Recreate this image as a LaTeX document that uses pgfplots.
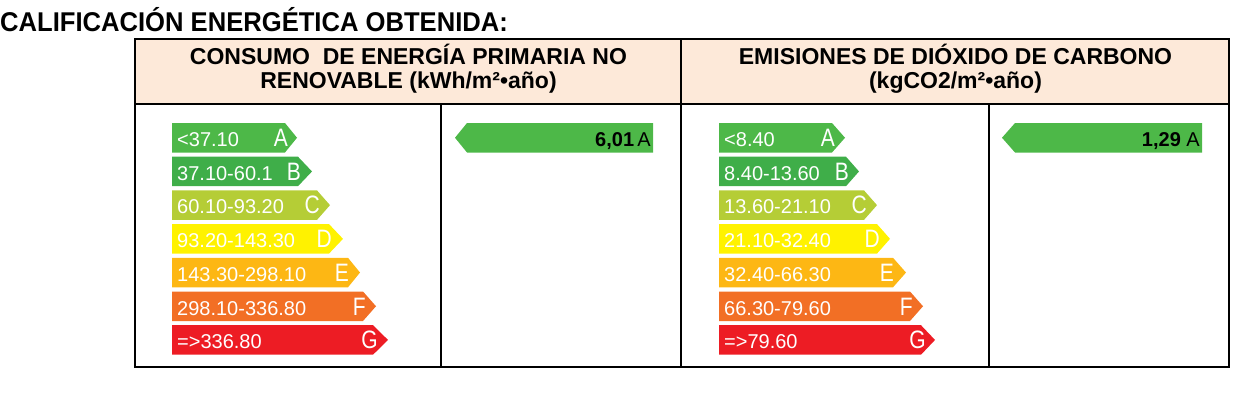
\documentclass[border=0pt]{standalone}
\usepackage{pgfplots}
\pgfplotsset{compat=1.18}
\usepackage{fontspec}
\setmainfont{Liberation Sans}
\definecolor{hdr}{HTML}{FDE9D9}
\definecolor{cA}{HTML}{4DB848}
\definecolor{cB}{HTML}{3FAE49}
\definecolor{cC}{HTML}{B5CD36}
\definecolor{cD}{HTML}{FFF200}
\definecolor{cE}{HTML}{FDB714}
\definecolor{cF}{HTML}{F26F25}
\definecolor{cG}{HTML}{ED1C24}
\newcommand\lab{\fontsize{20}{23}\selectfont}
\newcommand\ltr[1]{\fontsize{21}{23}\selectfont\scalebox{1}[1.2]{#1}}
\newcommand\hd{\fontsize{23}{26}\selectfont\bfseries}
\begin{document}
\begin{tikzpicture}
\begin{axis}[width=1242pt,height=399pt,scale only axis,
  xmin=0,xmax=1242,ymin=0,ymax=399,y dir=reverse,hide axis,clip=false]
\path (axis cs:0,0) rectangle (axis cs:1242,399);
% header background
\addplot[fill=hdr,draw=none] coordinates {(135,39) (1229,39) (1229,104) (135,104)} --cycle;
% ---- left scale (kWh/m2 año)
\addplot[fill=cA,draw=none] coordinates {(172,123) (285,123) (297,137.75) (285,152.5) (172,152.5)} --cycle;
\addplot[fill=cB,draw=none] coordinates {(172,156.7) (298,156.7) (312,171.45) (298,186.2) (172,186.2)} --cycle;
\addplot[fill=cC,draw=none] coordinates {(172,190.4) (317,190.4) (330,205.15) (317,219.9) (172,219.9)} --cycle;
\addplot[fill=cD,draw=none] coordinates {(172,224.1) (329,224.1) (343,238.85) (329,253.6) (172,253.6)} --cycle;
\addplot[fill=cE,draw=none] coordinates {(172,257.8) (348,257.8) (360,272.55) (348,287.3) (172,287.3)} --cycle;
\addplot[fill=cF,draw=none] coordinates {(172,291.5) (363,291.5) (376,306.25) (363,321) (172,321)} --cycle;
\addplot[fill=cG,draw=none] coordinates {(172,325.2) (373,325.2) (388,339.95) (373,354.7) (172,354.7)} --cycle;
% ---- right scale (kgCO2/m2 año)
\addplot[fill=cA,draw=none] coordinates {(719,123) (832,123) (845,137.75) (832,152.5) (719,152.5)} --cycle;
\addplot[fill=cB,draw=none] coordinates {(719,156.7) (846,156.7) (859,171.45) (846,186.2) (719,186.2)} --cycle;
\addplot[fill=cC,draw=none] coordinates {(719,190.4) (864,190.4) (877,205.15) (864,219.9) (719,219.9)} --cycle;
\addplot[fill=cD,draw=none] coordinates {(719,224.1) (877,224.1) (890,238.85) (877,253.6) (719,253.6)} --cycle;
\addplot[fill=cE,draw=none] coordinates {(719,257.8) (893,257.8) (906,272.55) (893,287.3) (719,287.3)} --cycle;
\addplot[fill=cF,draw=none] coordinates {(719,291.5) (910,291.5) (923,306.25) (910,321) (719,321)} --cycle;
\addplot[fill=cG,draw=none] coordinates {(719,325.2) (921,325.2) (935,339.95) (921,354.7) (719,354.7)} --cycle;
% ---- obtained ratings
\addplot[fill=cA,draw=none] coordinates {(455,137.75) (467,123) (653,123) (653,152.5) (467,152.5)} --cycle;
\addplot[fill=cA,draw=none] coordinates {(1002,137.75) (1015,123) (1202,123) (1202,152.5) (1015,152.5)} --cycle;
% ---- table frame
\draw[line width=2pt] (axis cs:135,39) rectangle (axis cs:1229,367);
\draw[line width=2pt] (axis cs:135,104) -- (axis cs:1229,104);
\draw[line width=2pt] (axis cs:681,39) -- (axis cs:681,367);
\draw[line width=2pt] (axis cs:441,104) -- (axis cs:441,367);
\draw[line width=2pt] (axis cs:989,104) -- (axis cs:989,367);
% ---- texts
\node[anchor=base west,inner sep=0pt,font=\fontsize{25.6}{28}\selectfont\bfseries] at (axis cs:0,31.5) {\scalebox{1}[1.06]{CALIFICACIÓN ENERGÉTICA OBTENIDA:}};
\node[anchor=base,inner sep=0pt,font=\hd] at (axis cs:408.5,64) {CONSUMO\ \ DE ENERGÍA PRIMARIA NO};
\node[anchor=base,inner sep=0pt,font=\hd] at (axis cs:408.5,88.5) {RENOVABLE (kWh/m²•año)};
\node[anchor=base,inner sep=0pt,font=\hd] at (axis cs:955.5,64) {EMISIONES DE DIÓXIDO DE CARBONO};
\node[anchor=base,inner sep=0pt,font=\hd] at (axis cs:955.5,88.5) {(kgCO2/m²•año)};
% left labels
\begin{scope}[every node/.style={inner sep=0pt,font=\lab,text=white}]
\node[anchor=base west] at (axis cs:177,146.5) {<37.10};
\node[anchor=base west] at (axis cs:177,180.2) {37.10-60.1};
\node[anchor=base west] at (axis cs:177,213.9) {60.10-93.20};
\node[anchor=base west] at (axis cs:177,247.6) {93.20-143.30};
\node[anchor=base west] at (axis cs:177,281.3) {143.30-298.10};
\node[anchor=base west] at (axis cs:177,315) {298.10-336.80};
\node[anchor=base west] at (axis cs:177,348.7) {=>336.80};
\node[anchor=base east] at (axis cs:288,146.5) {\ltr{A}};
\node[anchor=base east] at (axis cs:301,180.2) {\ltr{B}};
\node[anchor=base east] at (axis cs:320,213.9) {\ltr{C}};
\node[anchor=base east] at (axis cs:332,247.6) {\ltr{D}};
\node[anchor=base east] at (axis cs:349,281.3) {\ltr{E}};
\node[anchor=base east] at (axis cs:366,315) {\ltr{F}};
\node[anchor=base east] at (axis cs:378,348.7) {\ltr{G}};
% right labels
\node[anchor=base west] at (axis cs:724,146.5) {<8.40};
\node[anchor=base west] at (axis cs:724,180.2) {8.40-13.60};
\node[anchor=base west] at (axis cs:724,213.9) {13.60-21.10};
\node[anchor=base west] at (axis cs:724,247.6) {21.10-32.40};
\node[anchor=base west] at (axis cs:724,281.3) {32.40-66.30};
\node[anchor=base west] at (axis cs:724,315) {66.30-79.60};
\node[anchor=base west] at (axis cs:724,348.7) {=>79.60};
\node[anchor=base east] at (axis cs:835,146.5) {\ltr{A}};
\node[anchor=base east] at (axis cs:849,180.2) {\ltr{B}};
\node[anchor=base east] at (axis cs:867,213.9) {\ltr{C}};
\node[anchor=base east] at (axis cs:880,247.6) {\ltr{D}};
\node[anchor=base east] at (axis cs:894,281.3) {\ltr{E}};
\node[anchor=base east] at (axis cs:913,315) {\ltr{F}};
\node[anchor=base east] at (axis cs:926,348.7) {\ltr{G}};
\end{scope}
\node[anchor=base east,inner sep=0pt,font=\lab] at (axis cs:651,146.5) {\textbf{6,01}\,A};
\node[anchor=base east,inner sep=0pt,font=\lab] at (axis cs:1200,146.5) {\textbf{1,29} A};
\end{axis}
\end{tikzpicture}
\end{document}
